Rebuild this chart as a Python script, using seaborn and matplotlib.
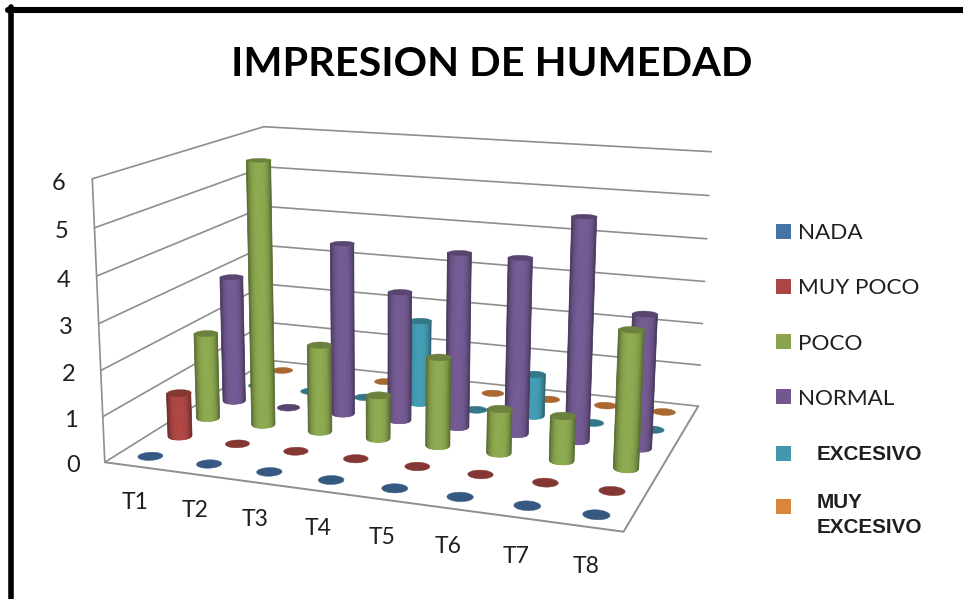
import numpy as np
import pandas as pd
import matplotlib
matplotlib.use("Agg")
import matplotlib.pyplot as plt
from matplotlib.lines import Line2D
from matplotlib.patches import Patch
from mpl_toolkits.mplot3d import proj3d
from mpl_toolkits.mplot3d.art3d import Poly3DCollection
import seaborn as sns

sns.set_theme(style="white")
plt.rcParams["font.family"] = ["Lato", "DejaVu Sans"]

# =====================================
# Data
# =====================================
categories = ["T1", "T2", "T3", "T4", "T5", "T6", "T7", "T8"]
series_names = ["NADA", "MUY POCO", "POCO", "NORMAL", "EXCESIVO", "MUY EXCESIVO"]
nada = [0, 0, 0, 0, 0, 0, 0, 0]
muy_poco = [1, 0, 0, 0, 0, 0, 0, 0]
poco = [2, 6, 2, 1, 2, 1, 1, 3]
normal = [3, 0, 4, 3, 4, 4, 5, 3]
excesivo = [0, 0, 0, 2, 0, 1, 0, 0]
muy_excesivo = [0, 0, 0, 0, 0, 0, 0, 0]
z_ticks = [0, 1, 2, 3, 4, 5, 6]

df = pd.DataFrame(
    {"NADA": nada, "MUY POCO": muy_poco, "POCO": poco, "NORMAL": normal,
     "EXCESIVO": excesivo, "MUY EXCESIVO": muy_excesivo},
    index=categories,
)
palette = sns.color_palette(["#4572a7", "#aa4643", "#89a54e", "#71588f", "#4198af", "#db843d"])

# =====================================
# Axes and camera
# =====================================
fig = plt.figure(figsize=(9.63, 5.99), dpi=100)
W = 670.0
ax = fig.add_axes([74.9 / 963, -46.4 / 599, W / 963, W / 599], projection="3d", computed_zorder=False)
ax.view_init(14.061, -70.767, -0.353)
ax.set_proj_type("persp", focal_length=0.442)
ax.set_box_aspect((1.838, 1.364, 1))
ax.set_axis_off()
ax.patch.set_alpha(0)
EYE_X, EYE_Y = 12.06, -20.4  # camera position in data units

# walls and floor
nx, ny = len(categories), len(series_names)
grid_col = "#8e8e8e"
for z in z_ticks:
    ax.plot([0, 0], [0, ny], [z, z], color=grid_col, lw=1.2, zorder=1)
    ax.plot([0, nx], [ny, ny], [z, z], color=grid_col, lw=1.2, zorder=1)
ax.plot([0, 0], [0, 0], [0, z_ticks[-1]], color=grid_col, lw=1.2, zorder=1)
ax.plot([0, nx, nx], [0, 0, ny], [0, 0, 0], color=grid_col, lw=1.4, zorder=1)

# =====================================
# Cylinders
# =====================================
R = 0.19
theta = np.linspace(0, 2 * np.pi, 61)
# strips of even width across the visible side
u = np.linspace(-1, 1, 15)
um = (u[:-1] + u[1:]) / 2


def circle(cx, cy, z):
    return list(zip(cx + R * np.cos(theta), cy + R * np.sin(theta), np.full_like(theta, z)))


for j, name in enumerate(series_names):
    col = np.array(palette[j])
    for i, cat in enumerate(categories):
        val = df.loc[cat, name]
        cx, cy = i + 0.5, j + 0.5
        order = 100 - 10 * j
        if val > 0:
            view = np.arctan2(EYE_Y - cy, EYE_X - cx)
            ang = view + np.arcsin(u)
            fx = cx + R * np.cos(ang)
            fy = cy + R * np.sin(ang)
            # solid body under the strips, so no seams show
            base_col = col * 0.82
            ax.add_collection3d(Poly3DCollection([circle(cx, cy, 0)], facecolor=base_col,
                                                 edgecolor="none", zorder=order))
            quad = [(fx[0], fy[0], 0), (fx[-1], fy[-1], 0), (fx[-1], fy[-1], val), (fx[0], fy[0], val)]
            ax.add_collection3d(Poly3DCollection([quad], facecolor=base_col, edgecolor="none",
                                                 zorder=order + 1))
            sides = [[(fx[k], fy[k], 0), (fx[k + 1], fy[k + 1], 0),
                      (fx[k + 1], fy[k + 1], val), (fx[k], fy[k], val)]
                     for k in range(len(u) - 1)]
            fc = np.clip(np.outer(1.04 - 0.46 * np.abs(um) ** 3, col), 0, 1)
            ax.add_collection3d(Poly3DCollection(sides, facecolors=fc, edgecolors=fc,
                                                 linewidths=0.5, zorder=order + 2))
        ax.add_collection3d(Poly3DCollection([circle(cx, cy, val)], facecolor=col * 0.78,
                                             edgecolor=col * 0.78, linewidth=0.3, zorder=order + 3))

ax.set_xlim(0, nx, view_margin=0)
ax.set_ylim(0, ny, view_margin=0)
ax.set_zlim(0, z_ticks[-1], view_margin=0)

# =====================================
# Tick labels, title, legend
# =====================================
text_col = "#1f1f1f"
proj = ax.get_proj()


def label3d(x, y, z, s, size):
    px, py, _ = proj3d.proj_transform(x, y, z, proj)
    ax.text2D(px, py, s, transform=ax.transData, ha="center", va="center",
              fontsize=size, color=text_col)


for z in z_ticks:
    label3d(-0.5, -0.1, z - 0.11, str(z), 17)
for i, cat in enumerate(categories):
    label3d(i + 0.5, 0.0, -0.8, cat, 16.5)

fig.text(492 / 963, 1 - 64 / 599, "IMPRESION DE HUMEDAD", ha="center", va="center",
         fontsize=29.8, fontweight="bold", color="black")

handles = [Patch(facecolor=palette[k], edgecolor="none") for k in range(6)]
leg1 = fig.legend(handles[:4], series_names[:4], loc="center left",
                  bbox_to_anchor=(776 / 963, 1 - 316 / 599), frameon=False, fontsize=16.2,
                  labelspacing=1.56, handlelength=0.68, handleheight=0.68, handletextpad=0.28,
                  borderpad=0, borderaxespad=0, labelcolor=text_col)
leg2 = fig.legend(handles[4:], ["EXCESIVO", "MUY\nEXCESIVO"], loc="center left",
                  bbox_to_anchor=(776 / 963, 1 - 491 / 599), frameon=False,
                  prop={"family": "Liberation Sans", "weight": "bold", "size": 14.9},
                  labelspacing=1.36, handlelength=0.73, handleheight=0.73, handletextpad=1.22,
                  borderpad=0, borderaxespad=0, labelcolor=text_col)
for t in leg2.get_texts():
    t.set_linespacing(1.4)
# square of the two-line entry sits between its lines
last = leg2.get_patches()[1]
last.set_y(last.get_y() + 6.0)

# frame of the original picture
fig.add_artist(Line2D([8 / 963, 1], [1 - 10 / 599, 1 - 10 / 599], color="black", lw=4.4))
fig.add_artist(Line2D([10.5 / 963, 10.5 / 963], [0, 1 - 7 / 599], color="black", lw=4.0))

fig.savefig("out.png", dpi=100)
